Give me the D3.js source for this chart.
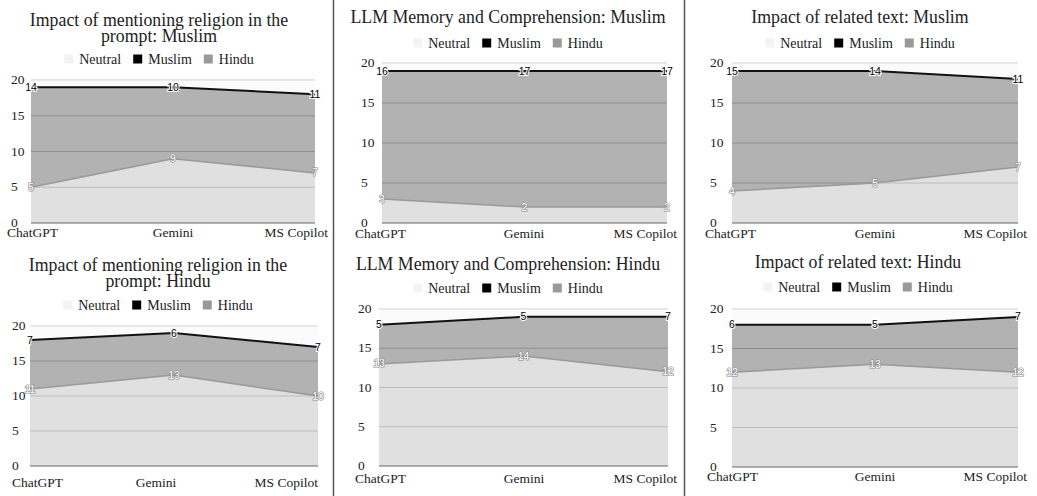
<!DOCTYPE html>
<html>
<head>
<meta charset="utf-8">
<script src="https://cdn.jsdelivr.net/npm/d3@7"></script>
<style>
  body { margin: 0; background: #fff; }
  svg { display: block; }
</style>
</head>
<body>
<svg id="chart" width="1037" height="496"></svg>
<script>
// data
const categories = ['ChatGPT', 'Gemini', 'MS Copilot'];
const legendKeys = ['Neutral', 'Muslim', 'Hindu'];
const stackKeys = ['Hindu', 'Muslim', 'Neutral'];
const yTicks = [0, 5, 10, 15, 20];
const titles = [
    ['Impact of mentioning religion in the', 'prompt: Muslim'],
    ['LLM Memory and Comprehension: Muslim'],
    ['Impact of related text: Muslim'],
    ['Impact of mentioning religion in the', 'prompt: Hindu'],
    ['LLM Memory and Comprehension: Hindu'],
    ['Impact of related text: Hindu']
];
const hinduVals = [[5, 9, 7], [3, 2, 2], [4, 5, 7], [11, 13, 10], [13, 14, 12], [12, 13, 12]];
const muslimVals = [[14, 10, 11], [16, 17, 17], [15, 14, 11], [7, 6, 7], [5, 5, 7], [6, 5, 7]];
const neutralVals = [[1, 1, 2], [1, 1, 1], [1, 1, 2], [2, 1, 3], [2, 1, 1], [2, 2, 1]];

const colors = { Neutral: '#f3f3f3', Muslim: '#000000', Hindu: '#999999' };

// panel placement
const layout = [
    { cx: 159, ty: 26, ly: 59, l: 31, r: 315, t: 80, b: 223, tx: 11, cy: 237, c0: 7, c1: 173, c2: 328 },
    { cx: 508, ty: 23, ly: 43, l: 382, r: 667, t: 63, b: 223, tx: 361, cy: 238, c0: 355, c1: 524, c2: 677 },
    { cx: 860, ty: 23, ly: 43, l: 732, r: 1018, t: 63, b: 223, tx: 710, cy: 238, c0: 705, c1: 875, c2: 1027 },
    { cx: 158, ty: 271, ly: 305, l: 30, r: 318, t: 326, b: 466, tx: 12, cy: 487, c0: 12, c1: 156, c2: 318 },
    { cx: 508, ty: 270, ly: 288, l: 379, r: 668, t: 309, b: 466, tx: 358, cy: 483, c0: 355, c1: 524, c2: 677 },
    { cx: 858, ty: 268, ly: 287, l: 732, r: 1018, t: 309, b: 467, tx: 710, cy: 481, c0: 707, c1: 875, c2: 1027 }
];

const svg = d3.select('#chart');
const serif = "'Liberation Serif', 'DejaVu Serif', serif";

// column separators
[333.5, 684.5].forEach(x => {
    svg.append('line')
        .attr('x1', x).attr('x2', x)
        .attr('y1', 0).attr('y2', 496)
        .attr('stroke', '#555')
        .attr('stroke-width', 1.5);
});

function drawPanel(i) {
    const p = layout[i];
    const g = svg.append('g');

    const rows = categories.map((c, j) => ({
        cat: c,
        Hindu: hinduVals[i][j],
        Muslim: muslimVals[i][j],
        Neutral: neutralVals[i][j]
    }));
    const series = d3.stack().keys(stackKeys)(rows);

    const x = d3.scalePoint().domain(categories).range([p.l, p.r]);
    const y = d3.scaleLinear().domain([0, 20]).range([p.b, p.t]);

    // title
    titles[i].forEach((line, k) => {
        g.append('text')
            .attr('x', p.cx)
            .attr('y', p.ty + k * 15.5)
            .attr('text-anchor', 'middle')
            .attr('font-family', serif)
            .attr('font-size', 17.8)
            .attr('fill', '#222')
            .text(line);
    });

    // legend
    const leg = g.append('g');
    let lx = 0;
    legendKeys.forEach(k => {
        leg.append('rect')
            .attr('x', lx).attr('y', p.ly - 4.5)
            .attr('width', 9).attr('height', 9)
            .attr('fill', colors[k]);
        const t = leg.append('text')
            .attr('x', lx + 15)
            .attr('y', p.ly + 4.5)
            .attr('font-family', serif)
            .attr('font-size', 14)
            .attr('fill', '#222')
            .text(k);
        lx += 15 + t.node().getComputedTextLength() + 12;
    });
    leg.attr('transform', `translate(${p.cx - (lx - 12) / 2},0)`);

    // grid
    g.selectAll('.grid').data(yTicks.slice(1)).join('line')
        .attr('x1', p.l).attr('x2', p.r)
        .attr('y1', d => y(d)).attr('y2', d => y(d))
        .attr('stroke', '#cccccc')
        .attr('stroke-width', 1);

    // areas
    const area = d3.area()
        .x(d => x(d.data.cat))
        .y0(d => y(d[0]))
        .y1(d => y(d[1]));
    g.selectAll('.area').data(series).join('path')
        .attr('d', area)
        .attr('fill', d => colors[d.key])
        .attr('fill-opacity', 0.3);

    // baseline
    g.append('line')
        .attr('x1', p.l).attr('x2', p.r)
        .attr('y1', y(0)).attr('y2', y(0))
        .attr('stroke', '#666')
        .attr('stroke-width', 1.2);

    // top edges
    const line = d3.line()
        .x(d => x(d.data.cat))
        .y(d => y(d[1]));
    g.selectAll('.edge').data(series.filter(s => s.key !== 'Neutral')).join('path')
        .attr('d', line)
        .attr('fill', 'none')
        .attr('stroke', d => d.key === 'Muslim' ? '#111' : '#999')
        .attr('stroke-width', d => d.key === 'Muslim' ? 2 : 1.5);

    // point labels
    series.filter(s => s.key !== 'Neutral').forEach(s => {
        g.selectAll(null).data(s).join('text')
            .attr('x', d => x(d.data.cat))
            .attr('y', d => y(d[1]) + 3.5)
            .attr('text-anchor', 'middle')
            .attr('font-family', "'Liberation Sans', Arial, sans-serif")
            .attr('font-size', 10.5)
            .attr('paint-order', 'stroke')
            .attr('stroke', s.key === 'Muslim' ? '#fff' : '#8a8a8a')
            .attr('stroke-width', s.key === 'Muslim' ? 2 : 1.2)
            .attr('fill', s.key === 'Muslim' ? '#000' : '#fff')
            .text(d => d.data[s.key]);
    });

    // y tick labels
    g.selectAll('.ytick').data(yTicks).join('text')
        .attr('x', p.tx)
        .attr('y', d => y(d) + 4)
        .attr('font-family', serif)
        .attr('font-size', 13.5)
        .attr('fill', '#222')
        .text(d => d);

    // category labels
    const cx = [p.c0, p.c1, p.c2];
    const anchors = ['start', 'middle', 'end'];
    g.selectAll('.xcat').data(categories).join('text')
        .attr('x', (d, j) => cx[j])
        .attr('y', p.cy)
        .attr('text-anchor', (d, j) => anchors[j])
        .attr('font-family', serif)
        .attr('font-size', 13.5)
        .attr('fill', '#222')
        .text(d => d);
}

titles.forEach((t, i) => drawPanel(i));
</script>
</body>
</html>
